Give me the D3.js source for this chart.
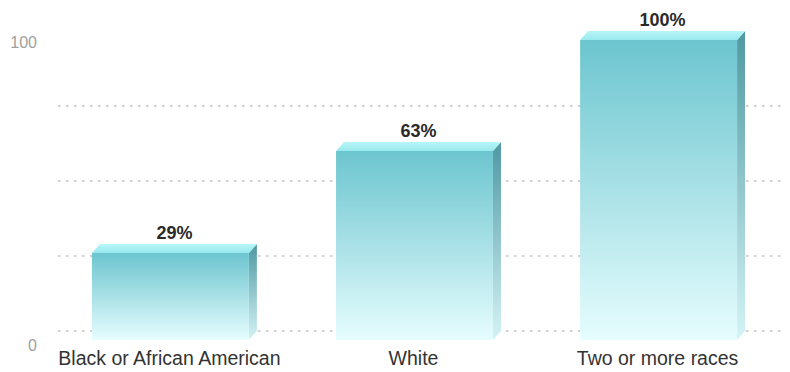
<!DOCTYPE html>
<html><head><meta charset="utf-8">
<script src="https://cdn.jsdelivr.net/npm/d3@7"></script>
<style>body{margin:0;background:#fff}svg{display:block}</style>
</head><body>
<svg id="c" width="790" height="372"></svg>
<script>
const categories = ["Black or African American", "White", "Two or more races"];
const values = [29, 63, 100];
const valueLabels = ["29%", "63%", "100%"];
const axisTicks = [0, 100];
const gridTicks = [0, 25, 50, 75];

const svg = d3.select("#c");
const dx = 8, dy = 9;
const y = d3.scaleLinear().domain([0, 100]).range([340, 40]);
const x = d3.scaleBand().domain(categories).range([48, 781]).paddingInner(0.357).paddingOuter(0.18);
const FONT = "Liberation Sans, Arial, Helvetica, sans-serif";

const defs = svg.append("defs");
function grad(id, stops) {
  const g = defs.append("linearGradient").attr("id", id).attr("x1",0).attr("y1",0).attr("x2",0).attr("y2",1);
  stops.forEach(([o,c]) => g.append("stop").attr("offset", o).attr("stop-color", c));
}
grad("gf", [["0%","#6cc5cf"],["100%","#e6fdfe"]]);
grad("gs", [["0%","#4f98a2"],["100%","#d4f4f6"]]);
grad("gt", [["0%","#b8f6f8"],["100%","#98e8ee"]]);

// gridlines (back plane)
svg.append("g").selectAll("line").data(gridTicks).join("line")
  .attr("x1", 58).attr("x2", 786)
  .attr("y1", d => y(d) - dy).attr("y2", d => y(d) - dy)
  .attr("stroke", "#d0d0d0").attr("stroke-width", 2)
  .attr("stroke-dasharray", "2.5,5.5");

// y labels
svg.append("g").selectAll("text").data(axisTicks).join("text")
  .attr("x", 37).attr("y", d => y(d) + 8 + (d === 0 ? 3 : 0))
  .attr("text-anchor", "end")
  .attr("font-family", FONT)
  .attr("font-size", 16).attr("fill", "#a0a0a0")
  .text(d => d);

const bars = svg.append("g").selectAll("g").data(values).join("g");
bars.each(function(v, i) {
  const g = d3.select(this);
  const x0 = x(categories[i]), bw = x.bandwidth();
  const yt = y(v), yb = y(0);
  g.append("path")
    .attr("d", `M${x0+bw},${yt} L${x0+bw+dx},${yt-dy} L${x0+bw+dx},${yb-dy} L${x0+bw},${yb} Z`)
    .attr("fill", "url(#gs)");
  g.append("path")
    .attr("d", `M${x0},${yt} L${x0+dx},${yt-dy} L${x0+bw+dx},${yt-dy} L${x0+bw},${yt} Z`)
    .attr("fill", "url(#gt)");
  g.append("rect").attr("x", x0).attr("y", yt).attr("width", bw).attr("height", yb - yt)
    .attr("fill", "url(#gf)");
  g.append("text")
    .attr("x", x0 + bw/2 + dx/2).attr("y", yt - dy - 5)
    .attr("text-anchor", "middle")
    .attr("font-family", FONT)
    .attr("font-size", 18).attr("font-weight", "bold").attr("fill", "#2a2a2a")
    .text(valueLabels[i]);
});

// category labels
svg.append("g").selectAll("text").data(categories).join("text")
  .attr("x", d => x(d) + x.bandwidth()/2 - 1)
  .attr("y", 365)
  .attr("text-anchor", "middle")
  .attr("font-family", FONT)
  .attr("font-size", 19.5).attr("fill", "#333")
  .text(d => d);
</script>
</body></html>
